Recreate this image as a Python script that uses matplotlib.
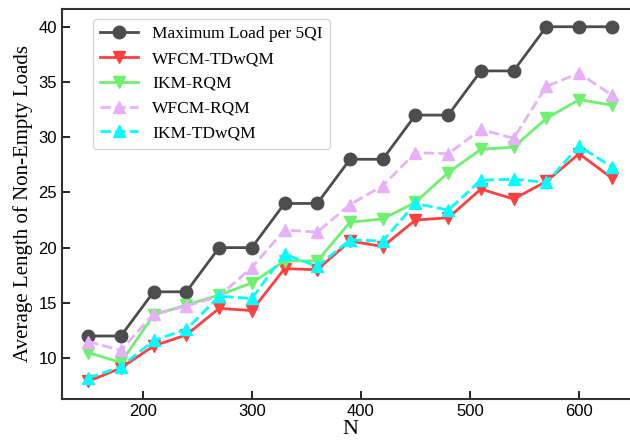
import matplotlib
matplotlib.use('Agg')
import matplotlib.pyplot as plt

# 横坐标 N
n_values = [150, 180, 210, 240, 270, 300, 330, 360, 390, 420, 450, 480, 510, 540, 570, 600, 630]

# 各方法的平均非空负载长度
max_load = [12, 12, 16, 16, 20, 20, 24, 24, 28, 28, 32, 32, 36, 36, 40, 40, 40]
wfcm_tdwqm = [7.9, 9.1, 11.1, 12.1, 14.5, 14.3, 18.1, 18.0, 20.6, 20.1, 22.5, 22.7, 25.3, 24.4, 26.0, 28.5, 26.3]
ikm_rqm = [10.5, 9.6, 13.9, 14.8, 15.7, 16.8, 18.8, 18.8, 22.3, 22.6, 24.1, 26.8, 28.9, 29.1, 31.7, 33.4, 32.9]
wfcm_rqm = [11.5, 10.7, 14.0, 14.7, 15.6, 18.2, 21.6, 21.4, 23.9, 25.6, 28.6, 28.5, 30.7, 29.9, 34.6, 35.8, 33.8]
ikm_tdwqm = [8.2, 9.2, 11.6, 12.6, 15.6, 15.4, 19.4, 18.3, 20.7, 20.6, 24.0, 23.4, 26.1, 26.2, 25.9, 29.2, 27.3]

plt.rcParams['font.family'] = ['Liberation Serif', 'DejaVu Serif']

fig = plt.figure(figsize=(6.3, 4.41), dpi=100)
ax = fig.add_axes([62 / 630, 42 / 441, 576 / 630, 390 / 441])

ax.plot(n_values, max_load, color='#4d4d4d', marker='o', markersize=9, linewidth=2, label='Maximum Load per 5QI')
ax.plot(n_values, wfcm_tdwqm, color='#ff4040', marker='v', markersize=9, linewidth=2, label='WFCM-TDwQM')
ax.plot(n_values, ikm_rqm, color='#70f070', marker='v', markersize=9, linewidth=2, label='IKM-RQM')
ax.plot(n_values, wfcm_rqm, color='#e8b0f8', marker='^', markersize=9, linewidth=2, linestyle='--', label='WFCM-RQM')
ax.plot(n_values, ikm_tdwqm, color='#00ffff', marker='^', markersize=9, linewidth=2, linestyle='--', label='IKM-TDwQM')

ax.set_xlabel('N', fontsize=16, labelpad=1)
ax.set_ylabel('Average Length of Non-Empty Loads', fontsize=15)

ax.tick_params(direction='in', length=6, width=1.2)
for lbl in ax.get_xticklabels() + ax.get_yticklabels():
    lbl.set_family(['Liberation Sans Narrow', 'Liberation Sans'])
    lbl.set_fontsize(12)
for sp in ax.spines.values():
    sp.set_linewidth(1.5)
    sp.set_color('#333333')

ax.legend(loc='upper left', bbox_to_anchor=(0.054, 0.974), borderaxespad=0,
          fontsize=12.5, framealpha=0.8, handlelength=2.2)

fig.savefig('out.png', dpi=100)
